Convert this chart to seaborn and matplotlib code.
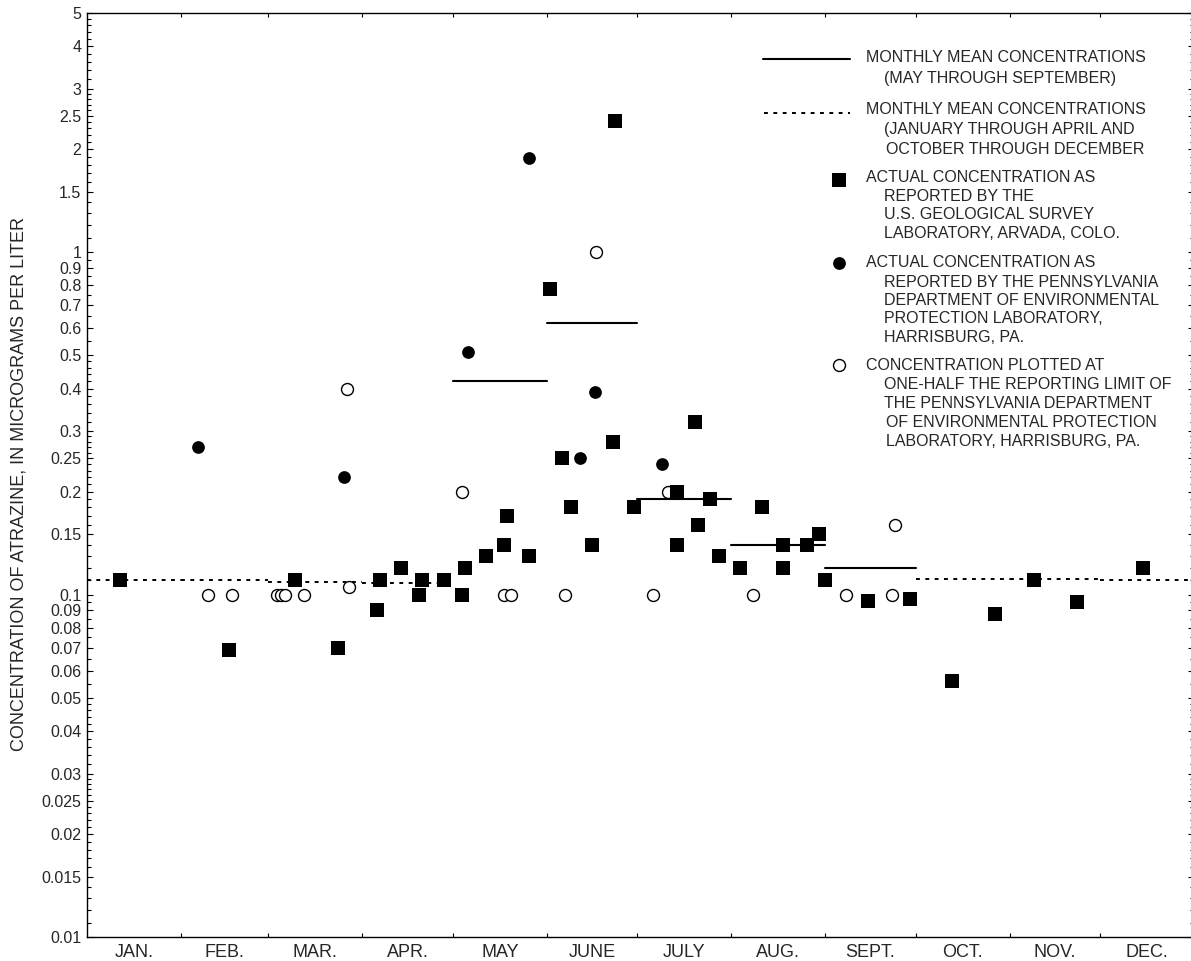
import numpy as np
import pandas as pd
import matplotlib
matplotlib.use("Agg")
import matplotlib.pyplot as plt
from matplotlib.lines import Line2D
from matplotlib.ticker import NullFormatter
import seaborn as sns

# ---------------- data ----------------
month_labels = ["JAN.", "FEB.", "MAR.", "APR.", "MAY", "JUNE", "JULY",
                "AUG.", "SEPT.", "OCT.", "NOV.", "DEC."]
month_days = [31, 29, 31, 30, 31, 30, 31, 31, 30, 31, 30, 31]

# monthly mean concentrations (micrograms per liter)
growing_months = [4, 5, 6, 7, 8]                 # May - Sept (solid)
growing_means = [0.42, 0.62, 0.19, 0.14, 0.12]
other_months = [0, 1, 2, 3, 9, 10, 11]           # Jan-Apr, Oct-Dec (dotted)
other_means = [0.110, 0.110, 0.109, 0.108, 0.111, 0.111, 0.110]

# USGS laboratory, Arvada, Colo. (day of year, concentration)
usgs_day = [10.9, 46.9, 68.8, 83.0, 95.9, 96.9, 103.8, 109.8, 110.8, 118.0,
            124.0, 125.0, 131.9, 137.9, 138.9, 146.1, 153.1, 157.0, 160.0, 167.0,
            174.6, 173.9, 180.9, 195.1, 195.1, 201.0, 202.0, 206.0, 209.0, 215.9,
            223.2, 230.1, 230.1, 238.0, 242.0, 244.0, 258.2, 272.1, 286.0, 300.2,
            313.1, 327.3, 349.1]
usgs_conc = [0.11, 0.069, 0.11, 0.070, 0.090, 0.11, 0.12, 0.10, 0.11, 0.11,
             0.10, 0.12, 0.13, 0.14, 0.17, 0.13, 0.78, 0.25, 0.18, 0.14,
             2.42, 0.28, 0.18, 0.14, 0.20, 0.32, 0.16, 0.19, 0.13, 0.12,
             0.18, 0.14, 0.12, 0.14, 0.15, 0.11, 0.096, 0.097, 0.056, 0.088,
             0.11, 0.095, 0.12]

# Pennsylvania DEP laboratory, Harrisburg, Pa.
padep_day = [36.7, 85.0, 126.0, 146.1, 163.0, 168.0, 190.1]
padep_conc = [0.27, 0.22, 0.51, 1.88, 0.25, 0.39, 0.24]

# plotted at one-half the reporting limit
half_day = [40.0, 47.9, 62.8, 64.1, 65.5, 71.7, 86.0, 86.6, 124.0, 137.9,
            140.2, 158.0, 168.3, 187.1, 192.1, 220.2, 250.9, 266.2, 267.1]
half_conc = [0.10, 0.10, 0.10, 0.10, 0.10, 0.10, 0.40, 0.105, 0.20, 0.10,
             0.10, 0.10, 1.0, 0.10, 0.20, 0.10, 0.10, 0.10, 0.16]

ytick_vals = [0.01, 0.015, 0.02, 0.025, 0.03, 0.04, 0.05, 0.06, 0.07, 0.08, 0.09,
              0.1, 0.15, 0.2, 0.25, 0.3, 0.4, 0.5, 0.6, 0.7, 0.8, 0.9,
              1, 1.5, 2, 2.5, 3, 4, 5]
ytick_labels = ["0.01", "0.015", "0.02", "0.025", "0.03", "0.04", "0.05", "0.06",
                "0.07", "0.08", "0.09", "0.1", "0.15", "0.2", "0.25", "0.3", "0.4",
                "0.5", "0.6", "0.7", "0.8", "0.9", "1", "1.5", "2", "2.5", "3", "4", "5"]
minor_mant = [1.1, 1.2, 1.3, 1.4, 1.6, 1.7, 1.8, 1.9, 2.1, 2.2, 2.3, 2.4,
              2.6, 2.7, 2.8, 2.9, 3.2, 3.4, 3.6, 3.8, 4.2, 4.4, 4.6, 4.8,
              5.5, 6.5, 7.5, 8.5, 9.5]

# ---------------- figure ----------------
sns.set_style("white")
plt.rcParams["font.family"] = ["Liberation Sans", "DejaVu Sans"]

W, H = 1191, 961
fig = plt.figure(figsize=(W / 100, H / 100), dpi=100)
ax = fig.add_axes([87 / W, (H - 937) / H, 1107 / W, 924 / H])
ax.set_yscale("log")

bounds = np.cumsum([0] + month_days)
centers = (bounds[:-1] + bounds[1:]) / 2


def mean_frame(months, means):
    rows = []
    for m, v in zip(months, means):
        rows.append({"month": m, "day": bounds[m], "conc": v})
        rows.append({"month": m, "day": bounds[m + 1], "conc": v})
    return pd.DataFrame(rows)


df_solid = mean_frame(growing_months, growing_means)
df_dash = mean_frame(other_months, other_means)

sns.lineplot(data=df_solid, x="day", y="conc", units="month", estimator=None,
             sort=False, color="black", linewidth=1.5, legend=False, ax=ax, zorder=2)
sns.lineplot(data=df_dash, x="day", y="conc", units="month", estimator=None,
             sort=False, color="black", linewidth=1.4, linestyle=(0, (2.0, 2.8)),
             legend=False, ax=ax, zorder=2)

sns.scatterplot(x=half_day, y=half_conc, marker="o", s=74, color="white",
                edgecolor="black", linewidth=1.0, legend=False, ax=ax, zorder=3)
sns.scatterplot(x=padep_day, y=padep_conc, marker="o", s=84, color="black",
                edgecolor="black", linewidth=0, legend=False, ax=ax, zorder=4)
sns.scatterplot(x=usgs_day, y=usgs_conc, marker="s", s=92, color="black",
                edgecolor="black", linewidth=0, legend=False, ax=ax, zorder=5)

ax.set_xlim(0, bounds[-1])
ax.set_ylim(0.01, 5)
ax.set_xlabel("")
ax.set_ylabel("")

# x ticks: boundaries (marks) and centres (labels)
ax.set_xticks(bounds[1:-1])
ax.set_xticklabels([])
ax.set_xticks(centers, minor=True)
ax.set_xticklabels(month_labels, minor=True)
ax.tick_params(axis="x", which="major", direction="in", length=3, width=0.8,
               top=True, bottom=True, color="black")
ax.tick_params(axis="x", which="minor", length=0, labelsize=13, pad=5)

# y ticks
ax.set_yticks(ytick_vals)
ax.set_yticklabels(ytick_labels)
minor_vals = [m * d for d in (0.01, 0.1, 1.0) for m in minor_mant if m * d < 5]
ax.set_yticks(minor_vals, minor=True)
ax.yaxis.set_minor_formatter(NullFormatter())
ax.tick_params(axis="y", which="major", direction="in", length=4.5, width=0.8,
               left=True, right=True, labelsize=11.5, pad=4, color="black")
ax.tick_params(axis="y", which="minor", direction="in", length=3, width=0.8,
               left=True, right=True, color="black")

for sp in ax.spines.values():
    sp.set_visible(True)
    sp.set_color("black")
    sp.set_linewidth(1.0)

fig.text(19 / W, 1 - 484 / H, "CONCENTRATION OF ATRAZINE, IN MICROGRAMS PER LITER",
         rotation=90, ha="center", va="center", fontsize=13)


# ---------------- legend (drawn in figure pixels) ----------------
def fx(x):
    return x / W


def fy(y):
    return 1 - y / H


LFS = 11.5
BASE = 5.8  # cap centre -> baseline offset (px)


def ltext(x, y, s):
    fig.text(fx(x), fy(y + BASE), s, ha="left", va="baseline", fontsize=LFS)


fig.add_artist(Line2D([fx(763), fx(850)], [fy(59), fy(59)], color="black",
                      linewidth=1.5, transform=fig.transFigure))
ltext(866, 56.7, "MONTHLY MEAN CONCENTRATIONS")
ltext(884, 76.7, "(MAY THROUGH SEPTEMBER)")

fig.add_artist(Line2D([fx(764), fx(850)], [fy(113.3), fy(113.3)], color="black",
                      linewidth=1.4, linestyle=(0, (2.0, 2.8)), transform=fig.transFigure))
ltext(866, 108.3, "MONTHLY MEAN CONCENTRATIONS")
ltext(884, 128.3, "(JANUARY THROUGH APRIL AND")
ltext(886, 148.3, "OCTOBER THROUGH DECEMBER")

fig.add_artist(Line2D([fx(838.7)], [fy(180)], marker="s", markersize=9.6,
                      markerfacecolor="black", markeredgewidth=0, linestyle="none",
                      transform=fig.transFigure))
ltext(866, 176.7, "ACTUAL CONCENTRATION AS")
ltext(884, 195.0, "REPORTED BY THE")
ltext(884, 213.3, "U.S. GEOLOGICAL SURVEY")
ltext(884, 231.7, "LABORATORY, ARVADA, COLO.")

fig.add_artist(Line2D([fx(838.7)], [fy(263)], marker="o", markersize=9.2,
                      markerfacecolor="black", markeredgewidth=0, linestyle="none",
                      transform=fig.transFigure))
ltext(866, 261.0, "ACTUAL CONCENTRATION AS")
ltext(884, 281.0, "REPORTED BY THE PENNSYLVANIA")
ltext(884, 299.3, "DEPARTMENT OF ENVIRONMENTAL")
ltext(884, 317.3, "PROTECTION LABORATORY,")
ltext(884, 335.7, "HARRISBURG, PA.")

fig.add_artist(Line2D([fx(838.7)], [fy(365)], marker="o", markersize=8.6,
                      markerfacecolor="white", markeredgecolor="black",
                      markeredgewidth=1.0, linestyle="none", transform=fig.transFigure))
ltext(866, 364.3, "CONCENTRATION PLOTTED AT")
ltext(884, 383.3, "ONE-HALF THE REPORTING LIMIT OF")
ltext(884, 402.7, "THE PENNSYLVANIA DEPARTMENT")
ltext(886, 421.0, "OF ENVIRONMENTAL PROTECTION")
ltext(886, 440.0, "LABORATORY, HARRISBURG, PA.")

fig.savefig("out.png", dpi=100)
